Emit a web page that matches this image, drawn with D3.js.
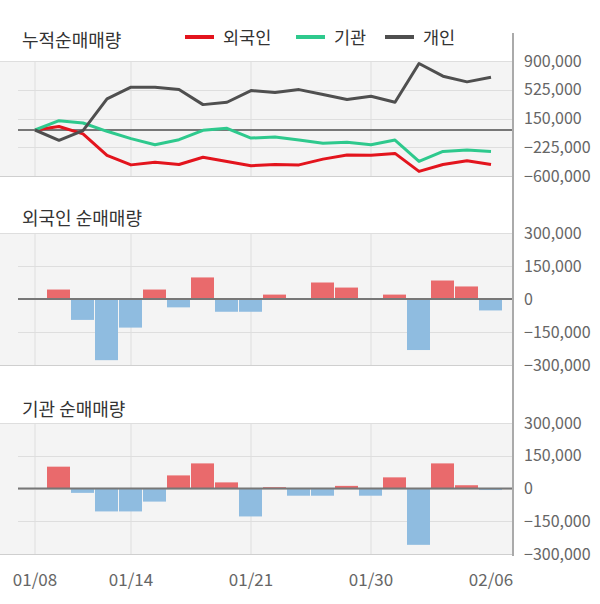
<!DOCTYPE html>
<html>
<head>
<meta charset="utf-8">
<script src="https://d3js.org/d3.v7.min.js"></script>
<style>
  body { margin: 0; background: #fff; font-family: 'Noto Sans CJK KR', 'Noto Sans', sans-serif; }
  .grid line { stroke: #dedede; stroke-width: 1; }
  .tick-label { font-size: 16px; fill: #666; }
  .x-label { font-size: 17px; fill: #666; }
  .title { font-size: 18px; fill: #333; }
  .legend text { font-size: 17.5px; fill: #333; }
</style>
</head>
<body>
<div id="chart"></div>
<script>
// trading days (2020, seollal break 01/24-01/27)
var dates = ["01/08","01/09","01/10","01/13","01/14","01/15","01/16","01/17","01/20","01/21",
             "01/22","01/23","01/28","01/29","01/30","01/31","02/03","02/04","02/05","02/06"];
var dateTicks = ["01/08","01/14","01/21","01/30","02/06"];
var gridDates = ["01/08","01/14","01/21","01/30"];

// cumulative net buying
var cumForeign = [0, 45000, -50000, -330000, -455000, -420000, -450000, -355000, -410000, -465000,
                  -450000, -455000, -380000, -325000, -330000, -305000, -540000, -450000, -400000, -450000];
var cumInst    = [0, 122000, 91000, -17000, -113000, -192000, -126000, -4000, 22000, -105000,
                  -92000, -131000, -174000, -161000, -192000, -131000, -410000, -279000, -262000, -279000];
var cumIndiv   = [0, -135000, -9000, 405000, 558000, 558000, 527000, 331000, 362000, 514000,
                  488000, 527000, 462000, 397000, 440000, 362000, 868000, 702000, 628000, 689000];

// daily net buying
var foreignDaily = [0, 43000, -95000, -278000, -130000, 43000, -38000, 98000, -58000, -58000,
                    20000, 0, 75000, 52000, 0, 20000, -232000, 84000, 57000, -52000];
var instDaily    = [0, 100000, -20000, -105000, -105000, -60000, 60000, 115000, 28000, -128000,
                    6000, -33000, -33000, 12000, -33000, 51000, -258000, 115000, 15000, -7000];

var cumTicks = [900000, 525000, 150000, -225000, -600000];
var barTicks = [300000, 150000, 0, -150000, -300000];

var legendItems = [
  {name: "외국인", color: "#e3141d"},
  {name: "기관", color: "#2ec98d"},
  {name: "개인", color: "#4f4f4f"}
];

var width = 600, height = 604,
    plotLeft = 0, plotRight = 513, innerLeft = 18;

var svg = d3.select("#chart").append("svg")
    .attr("width", width)
    .attr("height", height);

var x = d3.scaleBand()
    .domain(dates)
    .range([23, 503])
    .padding(0);
var cx = function(d) { return x(d) + x.bandwidth() / 2; };

var fmt = d3.format(",");

function panel(top, bottom, domain, ticks, title, titleY) {
  var y = d3.scaleLinear().domain(domain).range([bottom, top]);
  var g = svg.append("g");

  g.append("rect")
    .attr("x", plotLeft).attr("y", top)
    .attr("width", plotRight - plotLeft).attr("height", bottom - top)
    .attr("fill", "#f4f4f4");

  var grid = g.append("g").attr("class", "grid");
  grid.selectAll(".v")
      .data(gridDates)
    .enter().append("line")
      .attr("x1", cx).attr("x2", cx)
      .attr("y1", top).attr("y2", bottom);
  grid.selectAll(".h")
      .data(ticks)
    .enter().append("line")
      .attr("x1", function(d, i) { return (i === 0 || i === ticks.length - 1) ? plotLeft : innerLeft; })
      .attr("x2", plotRight)
      .attr("y1", function(d) { return Math.round(y(d)) + 0.5; })
      .attr("y2", function(d) { return Math.round(y(d)) + 0.5; })
      .style("stroke", function(d, i) { return i === ticks.length - 1 ? "#cfcfcf" : null; });

  svg.selectAll(null)
      .data(ticks)
    .enter().append("text")
      .attr("class", "tick-label")
      .attr("x", 524)
      .attr("y", function(d) { return y(d); })
      .attr("dy", "0.35em")
      .text(function(d) { return fmt(d); });

  svg.append("text")
    .attr("class", "title")
    .attr("x", 22).attr("y", titleY)
    .text(title);

  return {g: g, y: y};
}

// panel 1: cumulative lines
var p1 = panel(61, 176, [-600000, 900000], cumTicks, "누적순매매량", 47);
p1.g.append("line")
  .attr("x1", innerLeft).attr("x2", plotRight)
  .attr("y1", p1.y(0)).attr("y2", p1.y(0))
  .attr("stroke", "#777").attr("stroke-width", 2);

var line = d3.line()
  .x(function(d, i) { return cx(dates[i]); })
  .y(function(d) { return p1.y(d); });

[cumForeign, cumInst, cumIndiv].forEach(function(s, k) {
  p1.g.append("path")
    .datum(s)
    .attr("d", line)
    .attr("fill", "none")
    .attr("stroke", legendItems[k].color)
    .attr("stroke-width", 3)
    .attr("stroke-linejoin", "round");
});

// legend
var legend = svg.append("g").attr("class", "legend");
var legendX = [185, 296, 385];
legendItems.forEach(function(d, i) {
  legend.append("rect")
    .attr("x", legendX[i]).attr("y", 35)
    .attr("width", 29).attr("height", 4)
    .attr("fill", d.color);
  legend.append("text")
    .attr("x", legendX[i] + 38).attr("y", 44)
    .text(d.name);
});

// bar panels
function barPanel(top, bottom, values, title, titleY) {
  var p = panel(top, bottom, [-300000, 300000], barTicks, title, titleY);
  p.g.selectAll(".bar")
      .data(values.map(function(v, i) { return {date: dates[i], v: v}; }).filter(function(d) { return d.v !== 0; }))
    .enter().append("rect")
      .attr("x", function(d) { return x(d.date); })
      .attr("width", x.bandwidth() - 1)
      .attr("y", function(d) { return p.y(Math.max(0, d.v)); })
      .attr("height", function(d) { return Math.abs(p.y(d.v) - p.y(0)); })
      .attr("fill", function(d) { return d.v > 0 ? "#e96a6c" : "#8fbce0"; });
  p.g.append("line")
    .attr("x1", innerLeft).attr("x2", plotRight)
    .attr("y1", p.y(0)).attr("y2", p.y(0))
    .attr("stroke", "#777").attr("stroke-width", 2);
  return p;
}

barPanel(233, 365, foreignDaily, "외국인 순매매량", 225);
barPanel(423, 554, instDaily, "기관 순매매량", 416);

// right axis line
svg.append("line")
  .attr("x1", 513).attr("x2", 513)
  .attr("y1", 33).attr("y2", 556)
  .attr("stroke", "#aaa").attr("stroke-width", 2);

// x labels
svg.selectAll(".xlabel")
    .data(dateTicks)
  .enter().append("text")
    .attr("class", "x-label")
    .attr("x", cx)
    .attr("y", 586)
    .attr("text-anchor", "middle")
    .text(function(d) { return d; });
</script>
</body>
</html>
